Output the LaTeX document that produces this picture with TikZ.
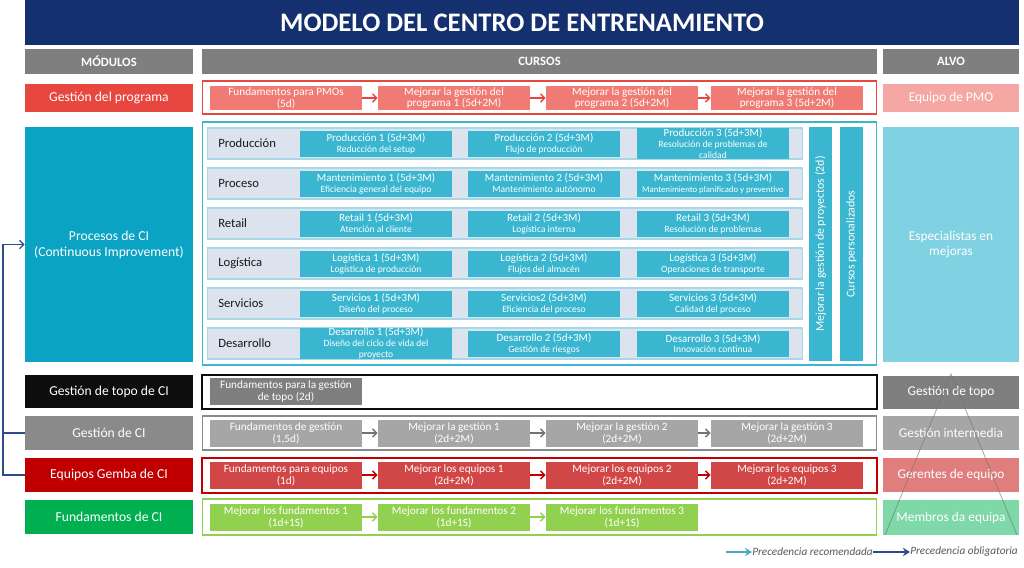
\documentclass[tikz,border=0pt]{standalone}
\usepackage{fontspec}
\setmainfont{Carlito}
\usepackage{tikz}
\usetikzlibrary{arrows.meta}

\definecolor{navyband}{HTML}{15306E}
\definecolor{hdrgray}{HTML}{7F7F7F}
\definecolor{pgmred}{HTML}{E8473F}
\definecolor{pgmbox}{HTML}{F07B75}
\definecolor{pgmpink}{HTML}{F4A7A3}
\definecolor{procteal}{HTML}{0AA3C3}
\definecolor{procframe}{HTML}{3BB5D0}
\definecolor{panelfill}{HTML}{DCE3EF}
\definecolor{panelline}{HTML}{A7D8E6}
\definecolor{courseteal}{HTML}{3AB6D0}
\definecolor{procright}{HTML}{80D1E1}
\definecolor{topblack}{HTML}{0D0D0D}
\definecolor{topgray}{HTML}{7F7F7F}
\definecolor{cigray}{HTML}{8A8A8A}
\definecolor{cilight}{HTML}{A6A6A6}
\definecolor{gembared}{HTML}{C00000}
\definecolor{gembabox}{HTML}{D14646}
\definecolor{gembapink}{HTML}{E07D7D}
\definecolor{fundgreen}{HTML}{00B050}
\definecolor{fundlime}{HTML}{92D050}
\definecolor{fundmint}{HTML}{7FD8A8}
\definecolor{linknavy}{HTML}{2F4B8C}
\definecolor{linkblue}{HTML}{4BACC6}

\tikzset{
  box/.style={rectangle, inner sep=0pt, align=center, text=white},
  banner/.style={box, fill=navyband, minimum width=24.85cm, minimum height=1.125cm, font=\bfseries\fontsize{19}{22}\selectfont},
  hdr/.style={box, fill=hdrgray, minimum height=0.625cm, font=\bfseries\fontsize{9}{10}\selectfont},
  modbox/.style={box, minimum width=4.2cm, font=\fontsize{9.7}{11.2}\selectfont},
  alvobox/.style={box, minimum width=3.4cm, font=\fontsize{9.5}{11}\selectfont},
  rowframe/.style={rectangle, draw, line width=1pt, minimum width=16.85cm},
  course/.style={box, minimum width=3.8cm, font=\fontsize{8}{8.4}\selectfont},
  panel/.style={rectangle, fill=panelfill, draw=panelline, line width=0.8pt, minimum width=14.85cm, minimum height=0.775cm},
  rowlabel/.style={anchor=west, inner sep=0pt, text=black!90, font=\fontsize{9}{10}\selectfont},
  proc/.style={box, fill=courseteal, minimum width=3.8cm, minimum height=0.65cm, font=\fontsize{7.8}{7.8}\selectfont},
  vbar/.style={box, fill=courseteal, rotate=90, minimum width=5.85cm, minimum height=0.575cm, font=\fontsize{8.5}{9}\selectfont},
  seq/.style={-{Straight Barb[length=3pt,width=6pt]}, line width=1pt},
  legend/.style={anchor=west, inner sep=0pt, text=black!65, font=\itshape\fontsize{8}{9}\selectfont}
}
\newcommand{\subl}[1]{{\fontsize{6.8}{7}\selectfont #1}}

\begin{document}
\begin{tikzpicture}[x=0.025cm, y=-0.025cm]
\useasboundingbox (0,0) rectangle (1024,567);

% title and headers
\begin{scope}
    \node[banner] (ttl) at (522,22.5) {MODELO DEL CENTRO DE ENTRENAMIENTO};
    \node[hdr, minimum width=4.2cm] (hm) at (109,61.5) {MÓDULOS};
    \node[hdr, minimum width=16.875cm] (hc) at (539.5,61.5) {CURSOS};
    \node[hdr, minimum width=3.4cm] (ha) at (951,61.5) {ALVO};
\end{scope}

% modules
\begin{scope}
    \node[modbox, fill=pgmred, minimum height=0.7cm] (m1) at (109,98) {Gestión del programa};
    \node[modbox, fill=procteal, minimum height=5.875cm] (m2) at (109,244.5) {Procesos de CI\\(Continuous Improvement)};
    \node[modbox, fill=topblack, minimum height=0.825cm] (m3) at (109,391.5) {Gestión de topo de CI};
    \node[modbox, fill=cigray, minimum height=0.85cm] (m4) at (109,433) {Gestión de CI};
    \node[modbox, fill=gembared, minimum height=0.85cm] (m5) at (109,475) {Equipos Gemba de CI};
    \node[modbox, fill=fundgreen, minimum height=0.85cm] (m6) at (109,517) {Fundamentos de CI};
\end{scope}

% frames round the courses
\begin{scope}
    \node[rowframe, draw=pgmred, minimum height=0.825cm] (fr1) at (539.5,97.5) {};
    \node[rowframe, draw=procframe, line width=1.2pt, minimum height=6.075cm] (fr2) at (539.5,243.5) {};
    \node[rowframe, draw=topblack, line width=1.4pt, minimum height=0.85cm] (fr3) at (539.5,392) {};
    \node[rowframe, draw=cigray, minimum height=0.85cm] (fr4) at (539.5,433) {};
    \node[rowframe, draw=gembared, line width=1.4pt, minimum height=0.875cm] (fr5) at (539.5,475.5) {};
    \node[rowframe, draw=fundlime, minimum height=0.9cm] (fr6) at (539.5,517) {};
\end{scope}

% program courses
\begin{scope}[every node/.style={course, fill=pgmbox, minimum height=0.6cm}]
    \node (p1) at (286,98) {Fundamentos para PMOs\\(5d)};
    \node (p2) at (454,98) {Mejorar la gestión del\\programa 1 (5d+2M)};
    \node (p3) at (622,98) {Mejorar la gestión del\\programa 2 (5d+2M)};
    \node (p4) at (787,98) {Mejorar la gestión del\\programa 3 (5d+2M)};
\end{scope}

% process rows
\begin{scope}
    \node[panel] (r1) at (505,143.5) {};
    \node[panel] (r2) at (505,183.5) {};
    \node[panel] (r3) at (505,223.5) {};
    \node[panel] (r4) at (505,263.5) {};
    \node[panel] (r5) at (505,303.5) {};
    \node[panel] (r6) at (505,343.5) {};
    \node[rowlabel] (l1) at (218,143.5) {Producción};
    \node[rowlabel] (l2) at (218,183.5) {Proceso};
    \node[rowlabel] (l3) at (218,223.5) {Retail};
    \node[rowlabel] (l4) at (218,263.5) {Logística};
    \node[rowlabel] (l5) at (218,303.5) {Servicios};
    \node[rowlabel] (l6) at (218,343.5) {Desarrollo};
\end{scope}

\begin{scope}[every node/.style={proc}]
    \node (c11) at (376,143.5) {Producción 1 (5d+3M)\\\subl{Reducción del setup}};
    \node (c12) at (544,143.5) {Producción 2 (5d+3M)\\\subl{Flujo de producción}};
    \node (c13) at (713,143.5) {Producción 3 (5d+3M)\\\subl{Resolución de problemas de}\\\subl{calidad}};
    \node (c21) at (376,183.5) {Mantenimiento 1 (5d+3M)\\\subl{Eficiencia general del equipo}};
    \node (c22) at (544,183.5) {Mantenimiento 2 (5d+3M)\\\subl{Mantenimiento autónomo}};
    \node (c23) at (713,183.5) {Mantenimiento 3 (5d+3M)\\{\fontsize{6.2}{7}\selectfont Mantenimiento planificado y preventivo}};
    \node (c31) at (376,223.5) {Retail 1 (5d+3M)\\\subl{Atención al cliente}};
    \node (c32) at (544,223.5) {Retail 2 (5d+3M)\\\subl{Logística interna}};
    \node (c33) at (713,223.5) {Retail 3 (5d+3M)\\\subl{Resolución de problemas}};
    \node (c41) at (376,263.5) {Logística 1 (5d+3M)\\\subl{Logística de producción}};
    \node (c42) at (544,263.5) {Logística 2 (5d+3M)\\\subl{Flujos del almacén}};
    \node (c43) at (713,263.5) {Logística 3 (5d+3M)\\\subl{Operaciones de transporte}};
    \node (c51) at (376,303.5) {Servicios 1 (5d+3M)\\\subl{Diseño del proceso}};
    \node (c52) at (544,303.5) {Servicios2 (5d+3M)\\\subl{Eficiencia del proceso}};
    \node (c53) at (713,303.5) {Servicios 3 (5d+3M)\\\subl{Calidad del proceso}};
    \node (c61) at (376,343.5) {Desarrollo 1 (5d+3M)\\\subl{Diseño del ciclo de vida del}\\\subl{proyecto}};
    \node (c62) at (544,343.5) {Desarrollo 2 (5d+3M)\\\subl{Gestión de riesgos}};
    \node (c63) at (713,343.5) {Desarrollo 3 (5d+3M)\\\subl{Innovación continua}};
\end{scope}

\node[vbar] (v1) at (820.5,244) {Mejorar la gestión de proyectos (2d)};
\node[vbar] (v2) at (851.5,244) {Cursos personalizados};

% management and team courses
\node[course, fill=topgray, minimum height=0.675cm] (k1) at (286,391.5) {Fundamentos para la gestión\\de topo (2d)};

\begin{scope}[every node/.style={course, fill=cilight, minimum height=0.675cm}]
    \node (g1) at (286,433) {Fundamentos de gestión\\(1,5d)};
    \node (g2) at (454,433) {Mejorar la gestión 1\\(2d+2M)};
    \node (g3) at (622,433) {Mejorar la gestión 2\\(2d+2M)};
    \node (g4) at (787,433) {Mejorar la gestión 3\\(2d+2M)};
\end{scope}

\begin{scope}[every node/.style={course, fill=gembabox, minimum height=0.675cm}]
    \node (e1) at (286,475) {Fundamentos para equipos\\(1d)};
    \node (e2) at (454,475) {Mejorar los equipos 1\\(2d+2M)};
    \node (e3) at (622,475) {Mejorar los equipos 2\\(2d+2M)};
    \node (e4) at (787,475) {Mejorar los equipos 3\\(2d+2M)};
\end{scope}

\begin{scope}[every node/.style={course, fill=fundlime, minimum height=0.675cm}]
    \node (f1) at (286,517) {Mejorar los fundamentos 1\\(1d+1S)};
    \node (f2) at (454,517) {Mejorar los fundamentos 2\\(1d+1S)};
    \node (f3) at (622,517) {Mejorar los fundamentos 3\\(1d+1S)};
\end{scope}

% targets
\begin{scope}
    \node[alvobox, fill=pgmpink, minimum height=0.7cm] (t1) at (951,98) {Equipo de PMO};
    \node[alvobox, fill=procright, minimum height=5.875cm] (t2) at (951,244.5) {Especialistas en\\mejoras};
    \node[alvobox, fill=topgray, minimum height=0.825cm] (t3) at (951,392) {Gestión de topo};
    \node[alvobox, fill=cilight, minimum height=0.85cm] (t4) at (951,433) {Gestión intermedia};
    \node[alvobox, fill=gembapink, minimum height=0.85cm] (t5) at (951,475) {Gerentes de equipo};
    \node[alvobox, fill=fundmint, minimum height=0.875cm] (t6) at (951,517.5) {Membros da equipa};
\end{scope}
\draw[black!55, opacity=0.6, line width=0.6pt] (885,535) -- (951,374) -- (1017,535);

% precedence
\begin{scope}[every edge/.style={draw, seq}]
    \path [pgmred] (p1) edge (p2) (p2) edge (p3) (p3) edge (p4);
    \path [black!55] (g1) edge (g2) (g2) edge (g3) (g3) edge (g4);
    \path [gembared] (e1) edge (e2) (e2) edge (e3) (e3) edge (e4);
    \path [fundlime] (f1) edge (f2) (f2) edge (f3);
\end{scope}

\coordinate (rail) at (3,433);
\draw[linknavy, line width=0.9pt] (m4.west) -- (rail);
\draw[linknavy, line width=0.9pt, -{Straight Barb[length=3pt,width=6pt]}] (m5.west) -| (rail) |- (m2.west);

% legend
\node[legend] (lrec) at (752,552) {Precedencia recomendada};
\node[legend] (lobl) at (910,552) {Precedencia obligatoria};
\coordinate (lstart) at (726,552);
\draw[linkblue, line width=1.2pt, -{Stealth[length=5pt,width=6pt]}] (lstart) -- (lrec.west);
\draw[linknavy, line width=1.2pt, -{Stealth[length=5pt,width=6pt]}] (lrec.east) -- (lobl.west);
\end{tikzpicture}
\end{document}
